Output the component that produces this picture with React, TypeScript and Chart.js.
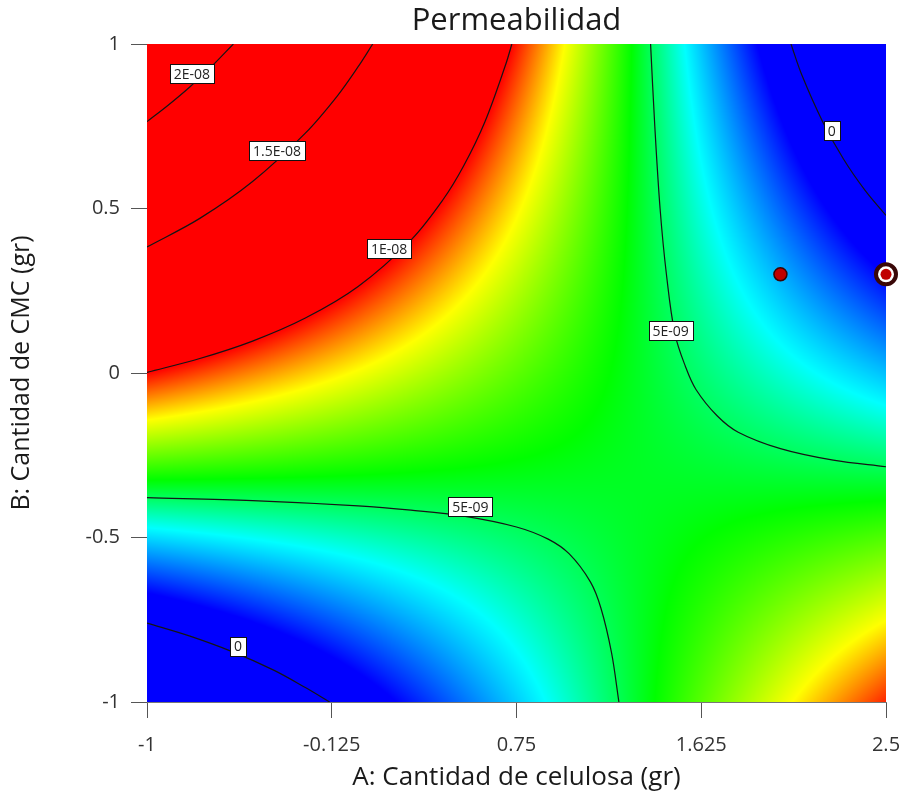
import React, { useEffect, useRef } from "react";
import { Chart, registerables } from "chart.js";

Chart.register(...registerables);

// ---------- data (response in units of 1E-09) ----------
const gridA = [-1, -0.5, 0, 0.5, 1, 1.5, 2, 2.5];
const gridB = [-1, -0.5, 0, 0.5, 1];
const gridZ = [
  [-3.15, -1.31, 0.53, 2.37, 4.21, 6.05, 7.89, 9.73], // B = -1
  [3.41, 3.85, 4.28, 4.71, 5.14, 5.58, 6.01, 6.44], // B = -0.5
  [9.98, 9.0, 8.03, 7.05, 6.08, 5.1, 4.13, 3.15], // B = 0
  [16.54, 14.16, 11.77, 9.39, 7.01, 4.63, 2.24, -0.14], // B = 0.5
  [23.1, 19.31, 15.52, 11.73, 7.94, 4.15, 0.36, -3.43], // B = 1
];
const colorStops = [1.2, 3.8, 5.7, 8.1, 10.0];
const stopColors = [
  [0, 0, 255],
  [0, 255, 255],
  [0, 255, 0],
  [255, 255, 0],
  [255, 0, 0],
];

const contour2E08 = [
  { x: -1, y: 0.764 }, { x: -0.9, y: 0.814 }, { x: -0.8, y: 0.868 },
  { x: -0.7, y: 0.928 }, { x: -0.591, y: 1.0 },
];
const contour15E08 = [
  { x: -1, y: 0.383 }, { x: -0.75, y: 0.47 }, { x: -0.5, y: 0.582 },
  { x: -0.25, y: 0.729 }, { x: -0.1, y: 0.841 }, { x: 0, y: 0.931 }, { x: 0.069, y: 1.0 },
];
const contour1E08 = [
  { x: -1, y: 0.002 }, { x: -0.75, y: 0.044 }, { x: -0.5, y: 0.097 }, { x: -0.25, y: 0.167 },
  { x: 0, y: 0.263 }, { x: 0.25, y: 0.404 }, { x: 0.4, y: 0.525 }, { x: 0.5, y: 0.63 },
  { x: 0.6, y: 0.763 }, { x: 0.7, y: 0.94 }, { x: 0.728, y: 1.0 },
];
const contour5E09Low = [
  { x: -1, y: -0.379 }, { x: -0.5, y: -0.388 }, { x: 0, y: -0.404 }, { x: 0.25, y: -0.417 },
  { x: 0.5, y: -0.435 }, { x: 0.75, y: -0.468 }, { x: 0.9, y: -0.505 }, { x: 1.0, y: -0.55 },
  { x: 1.1, y: -0.635 }, { x: 1.15, y: -0.715 }, { x: 1.2, y: -0.85 }, { x: 1.235, y: -1.0 },
];
const contour5E09Up = [
  { x: 1.385, y: 1.0 }, { x: 1.405, y: 0.75 }, { x: 1.43, y: 0.5 }, { x: 1.46, y: 0.3 },
  { x: 1.5, y: 0.12 }, { x: 1.55, y: 0.02 }, { x: 1.6, y: -0.05 }, { x: 1.7, y: -0.13 },
  { x: 1.8, y: -0.18 }, { x: 2.0, y: -0.23 }, { x: 2.25, y: -0.265 }, { x: 2.5, y: -0.285 },
];
const contour0Top = [
  { x: 2.05, y: 1.0 }, { x: 2.1, y: 0.908 }, { x: 2.2, y: 0.764 }, { x: 2.3, y: 0.649 },
  { x: 2.4, y: 0.556 }, { x: 2.5, y: 0.479 },
];
const contour0Bottom = [
  { x: -1, y: -0.76 }, { x: -0.8, y: -0.799 }, { x: -0.6, y: -0.846 }, { x: -0.4, y: -0.903 },
  { x: -0.25, y: -0.956 }, { x: -0.135, y: -1.0 },
];

const contourLabels = [
  { x: -0.787, y: 0.909, text: "2E-08" },
  { x: -0.384, y: 0.675, text: "1.5E-08" },
  { x: 0.147, y: 0.377, text: "1E-08" },
  { x: 1.48, y: 0.128, text: "5E-09" },
  { x: 0.532, y: -0.407, text: "5E-09" },
  { x: -0.569, y: -0.83, text: "0" },
  { x: 2.243, y: 0.736, text: "0" },
];

const designA = [2.0];
const designB = [0.3];
const replicateA = [2.5];
const replicateB = [0.3];

const xTicks = [-1, -0.125, 0.75, 1.625, 2.5];
const xTickLabels = ["-1", "-0.125", "0.75", "1.625", "2.5"];
const yTicks = [-1, -0.5, 0, 0.5, 1];
const yTickLabels = ["-1", "-0.5", "0", "0.5", "1"];

const chartTitle = "Permeabilidad";
const xTitle = "A: Cantidad de celulosa (gr)";
const yTitle = "B: Cantidad de CMC (gr)";

const FONT = "'Segoe UI', 'Open Sans', 'Noto Sans', sans-serif";

// ---------- helpers ----------
function findCell(arr: number[], v: number) {
  let i = 0;
  while (i < arr.length - 2 && v > arr[i + 1]) i++;
  const t = (v - arr[i]) / (arr[i + 1] - arr[i]);
  return { i, t: Math.max(0, Math.min(1, t)) };
}
function fieldAt(a: number, b: number) {
  const cx = findCell(gridA, a);
  const cy = findCell(gridB, b);
  const z00 = gridZ[cy.i][cx.i];
  const z10 = gridZ[cy.i][cx.i + 1];
  const z01 = gridZ[cy.i + 1][cx.i];
  const z11 = gridZ[cy.i + 1][cx.i + 1];
  return (
    z00 * (1 - cx.t) * (1 - cy.t) +
    z10 * cx.t * (1 - cy.t) +
    z01 * (1 - cx.t) * cy.t +
    z11 * cx.t * cy.t
  );
}
function colorFor(z: number) {
  if (z <= colorStops[0]) return stopColors[0];
  const n = colorStops.length;
  if (z >= colorStops[n - 1]) return stopColors[n - 1];
  let k = 0;
  while (z > colorStops[k + 1]) k++;
  const t = (z - colorStops[k]) / (colorStops[k + 1] - colorStops[k]);
  const c0 = stopColors[k];
  const c1 = stopColors[k + 1];
  return [
    c0[0] + (c1[0] - c0[0]) * t,
    c0[1] + (c1[1] - c0[1]) * t,
    c0[2] + (c1[2] - c0[2]) * t,
  ];
}

const heatmapPlugin = {
  id: "heatmap",
  beforeDatasetsDraw(chart: any) {
    const { ctx, chartArea, scales } = chart;
    const xs = scales.x;
    const ys = scales.y;
    const w = Math.round(chartArea.right - chartArea.left);
    const h = Math.round(chartArea.bottom - chartArea.top);
    const off = document.createElement("canvas");
    off.width = w;
    off.height = h;
    const octx = off.getContext("2d")!;
    const img = octx.createImageData(w, h);
    const d = img.data;
    for (let py = 0; py < h; py++) {
      const b = ys.getValueForPixel(chartArea.top + py + 0.5);
      for (let px = 0; px < w; px++) {
        const a = xs.getValueForPixel(chartArea.left + px + 0.5);
        const c = colorFor(fieldAt(a, b));
        const o = (py * w + px) * 4;
        d[o] = c[0];
        d[o + 1] = c[1];
        d[o + 2] = c[2];
        d[o + 3] = 255;
      }
    }
    octx.putImageData(img, 0, 0);
    ctx.save();
    ctx.drawImage(off, chartArea.left, chartArea.top);
    ctx.restore();
  },
};

const labelPlugin = {
  id: "contourLabels",
  afterDatasetsDraw(chart: any) {
    const { ctx, scales, chartArea } = chart;
    ctx.save();
    ctx.font = `14px ${FONT}`;
    ctx.textAlign = "center";
    ctx.textBaseline = "middle";
    for (const l of contourLabels) {
      const px = scales.x.getPixelForValue(l.x);
      const py = scales.y.getPixelForValue(l.y);
      const tw = ctx.measureText(l.text).width;
      const bw = Math.round(tw + 8);
      const bh = 19;
      const bx = Math.round(px - bw / 2) + 0.5;
      const by = Math.round(py - bh / 2) + 0.5;
      ctx.fillStyle = "#ffffff";
      ctx.fillRect(bx, by, bw, bh);
      ctx.strokeStyle = "#111";
      ctx.lineWidth = 1;
      ctx.strokeRect(bx, by, bw, bh);
      ctx.fillStyle = "#222";
      ctx.fillText(l.text, px, py + 1);
    }
    // chart title centred over the plot area
    ctx.font = `31px ${FONT}`;
    ctx.fillStyle = "#1a1a1a";
    ctx.textBaseline = "middle";
    ctx.fillText(chartTitle, (chartArea.left + chartArea.right) / 2, 21);
    ctx.restore();
  },
};

function contourDataset(data: { x: number; y: number }[]) {
  return {
    type: "line" as const,
    data,
    showLine: true,
    borderColor: "#151515",
    borderWidth: 1.2,
    pointRadius: 0,
    tension: 0.35,
    fill: false,
  };
}

export default function App() {
  const ref = useRef<HTMLCanvasElement>(null);
  useEffect(() => {
    document.body.style.margin = "0";
    const canvas = ref.current!;
    const chart = new Chart(canvas, {
      type: "scatter",
      data: {
        datasets: [
          {
            data: designA.map((a, i) => ({ x: a, y: designB[i] })),
            pointRadius: 6.5,
            pointBackgroundColor: "#c00000",
            pointBorderColor: "#3a0505",
            pointBorderWidth: 1.5,
            clip: false,
          } as any,
          {
            data: replicateA.map((a, i) => ({ x: a, y: replicateB[i] })),
            pointRadius: 5.5,
            pointBackgroundColor: "#c00000",
            pointBorderColor: "#c00000",
            pointBorderWidth: 0,
            clip: false,
          } as any,
          {
            data: replicateA.map((a, i) => ({ x: a, y: replicateB[i] })),
            pointRadius: 10,
            pointBackgroundColor: "#ffffff",
            pointBorderColor: "#3a0808",
            pointBorderWidth: 4,
            clip: false,
          } as any,
          contourDataset(contour2E08),
          contourDataset(contour15E08),
          contourDataset(contour1E08),
          contourDataset(contour5E09Low),
          contourDataset(contour5E09Up),
          contourDataset(contour0Top),
          contourDataset(contour0Bottom),
        ] as any,
      },
      options: {
        responsive: false,
        animation: false,
        layout: { padding: { left: 0, right: 17, top: 44, bottom: 0 } },
        plugins: {
          legend: { display: false },
          tooltip: { enabled: false },
          title: { display: false },
        },
        scales: {
          x: {
            type: "linear",
            min: -1,
            max: 2.5,
            afterBuildTicks: (s: any) => {
              s.ticks = xTicks.map((v) => ({ value: v }));
            },
            afterFit: (s: any) => {
              s.height = 99;
              s.paddingLeft = 0;
              s.paddingRight = 0;
            },
            ticks: {
              autoSkip: false,
              maxRotation: 0,
              padding: 15,
              color: "#333",
              font: { family: FONT, size: 20 },
              callback: (v: any) => {
                const i = xTicks.indexOf(Number(v));
                return i >= 0 ? xTickLabels[i] : "";
              },
            },
            grid: { drawOnChartArea: false, drawTicks: true, tickLength: 16, color: "#555", lineWidth: 1 },
            border: { display: true, color: "#777", width: 1 },
            title: {
              display: true,
              text: xTitle,
              color: "#1a1a1a",
              font: { family: FONT, size: 26 },
              padding: { top: 0, bottom: 8 },
            },
          },
          y: {
            type: "linear",
            min: -1,
            max: 1,
            afterBuildTicks: (s: any) => {
              s.ticks = yTicks.map((v) => ({ value: v }));
            },
            afterFit: (s: any) => {
              s.width = 147;
              s.paddingTop = 0;
              s.paddingBottom = 0;
            },
            ticks: {
              autoSkip: false,
              padding: 11,
              color: "#333",
              font: { family: FONT, size: 20 },
              callback: (v: any) => {
                const i = yTicks.indexOf(Number(v));
                return i >= 0 ? yTickLabels[i] : "";
              },
            },
            grid: { drawOnChartArea: false, drawTicks: true, tickLength: 16, color: "#555", lineWidth: 1 },
            border: { display: true, color: "#777", width: 1 },
            title: {
              display: true,
              text: yTitle,
              color: "#1a1a1a",
              font: { family: FONT, size: 25 },
              padding: { top: 7, bottom: 0 },
            },
          },
        },
      } as any,
      plugins: [heatmapPlugin, labelPlugin],
    });
    return () => chart.destroy();
  }, []);
  return (
    <div style={{ position: "absolute", left: 0, top: 0, width: 903, height: 801, background: "#fff" }}>
      <canvas ref={ref} width={903} height={801} />
    </div>
  );
}
